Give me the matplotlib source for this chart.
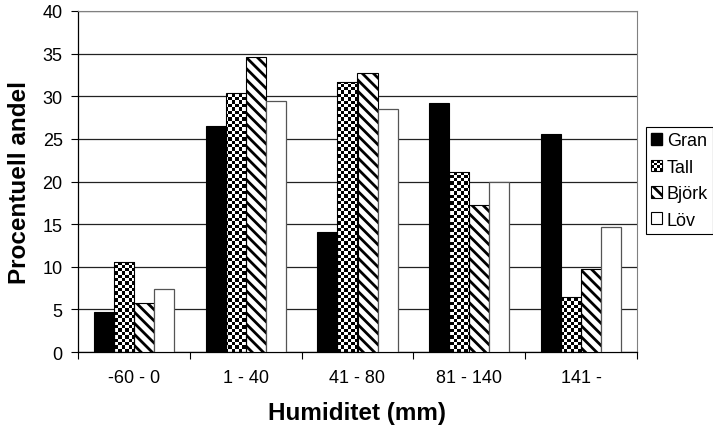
import numpy as np
import matplotlib
matplotlib.use("Agg")
import matplotlib.pyplot as plt
from matplotlib.patches import Rectangle, Patch
from matplotlib.legend_handler import HandlerBase

plt.rcParams["font.family"] = ["Liberation Sans", "DejaVu Sans"]
plt.rcParams["hatch.linewidth"] = 2.0

categories = ["-60 - 0", "1 - 40", "41 - 80", "81 - 140", "141 -"]
gran = [4.7, 26.5, 14.1, 29.2, 25.6]
tall = [10.5, 30.4, 31.7, 21.1, 6.4]
bjork = [5.8, 34.6, 32.7, 17.3, 9.7]
lov = [7.4, 29.5, 28.5, 20.0, 14.7]


class CheckerHandler(HandlerBase):
    # small checkerboard square for the legend
    def create_artists(self, legend, orig_handle, xdescent, ydescent,
                       width, height, fontsize, trans):
        n = 4
        cw, ch = width / n, height / n
        arts = []
        for i in range(n):
            for j in range(n):
                col = "black" if (i + j) % 2 else "white"
                arts.append(Rectangle((-xdescent + i * cw, -ydescent + j * ch), cw, ch,
                                      facecolor=col, edgecolor="none", transform=trans))
        arts.append(Rectangle((-xdescent, -ydescent), width, height, facecolor="none",
                              edgecolor="black", lw=0.8, transform=trans))
        return arts


fig = plt.figure(figsize=(7.13, 4.27), dpi=100)
ax = fig.add_axes([78 / 713, 1 - 353 / 427, 559 / 713, 341 / 427])

x = np.arange(len(categories))
w = 0.179
offs = [-1.5, -0.5, 0.5, 1.5]

ax.bar(x + offs[0] * w, gran, w, color="black", edgecolor="black", lw=0.8, zorder=3)
tall_bars = ax.bar(x + offs[1] * w, tall, w, color="white", edgecolor="none", zorder=2)
ax.bar(x + offs[1] * w, tall, w, fill=False, edgecolor="black", lw=0.8, zorder=4)
ax.bar(x + offs[2] * w, bjork, w, color="white", edgecolor="black", hatch="\\\\\\",
       lw=0.8, zorder=3)
ax.bar(x + offs[3] * w, lov, w, color="white", edgecolor="#555555", lw=0.9, zorder=3)

# checkerboard fill for Tall, clipped to each bar
rows, cols = 102, 168
checker = (np.add.outer(np.arange(rows), np.arange(cols)) % 2).astype(float)
for b in tall_bars:
    im = ax.imshow(checker, cmap="gray_r", extent=[0, 1, 0, 1], transform=ax.transAxes,
                   interpolation="nearest", aspect="auto", zorder=2.5, vmin=0, vmax=1)
    im.set_clip_path(b)

ax.set_xlim(-0.5, len(categories) - 0.5)
ax.set_ylim(0, 40)
ax.set_yticks(range(0, 41, 5))
ax.set_xticks(x)
ax.set_xticklabels(categories)
ax.set_xticks(np.arange(-0.5, len(categories), 1), minor=True)
ax.tick_params(axis="x", which="major", length=0, pad=12, labelsize=13)
ax.tick_params(axis="x", which="minor", length=5, width=0.8, direction="out")
ax.tick_params(axis="y", length=5, width=0.8, direction="out", labelsize=13, pad=6)

ax.yaxis.grid(True, color="#222222", lw=0.9)
ax.set_axisbelow(True)
for s in ["top", "right"]:
    ax.spines[s].set_color("#808080")
for s in ["left", "bottom"]:
    ax.spines[s].set_color("black")
    ax.spines[s].set_linewidth(0.9)

fig.text(20 / 713, 1 - 182 / 427, "Procentuell andel", fontsize=17.5, fontweight="bold",
         rotation=90, ha="center", va="center")
fig.text(357 / 713, 1 - 414 / 427, "Humiditet (mm)", fontsize=17.5, fontweight="bold",
         ha="center", va="center")

handles = [Patch(facecolor="black", edgecolor="black"),
           Patch(facecolor="white", edgecolor="black"),
           Patch(facecolor="white", edgecolor="black", hatch="\\\\\\", lw=0.8),
           Patch(facecolor="white", edgecolor="black", lw=0.8)]
leg = fig.legend(handles, ["Gran", "Tall", "Björk", "Löv"],
                 loc="upper left", bbox_to_anchor=(646 / 713, 1 - 128 / 427),
                 fontsize=13, frameon=True, fancybox=False, framealpha=1,
                 edgecolor="black", labelspacing=0.52, handlelength=0.6,
                 handleheight=0.6, handletextpad=0.25, borderpad=0.3,
                 borderaxespad=0, handler_map={handles[1]: CheckerHandler()})
leg.get_frame().set_linewidth(0.8)

fig.savefig("out.png", dpi=100)
